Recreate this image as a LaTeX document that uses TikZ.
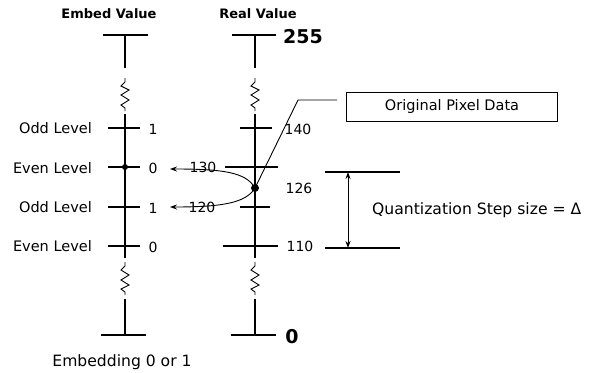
\documentclass[tikz,border=0pt]{standalone}
\usepackage{fontspec}
\setmainfont{DejaVu Sans}
\usetikzlibrary{arrows.meta}
\begin{document}
\begin{tikzpicture}[x=1pt,y=-1pt,
  axis/.style={line width=1.6pt},
  tick/.style={line width=1.4pt},
  lbl/.style={inner sep=0pt,font=\fontsize{14}{16}\selectfont},
  lvl/.style={inner sep=0pt,font=\fontsize{14.5}{16}\selectfont},
  wide/.style={inner sep=0pt,font=\fontsize{15.6}{18}\selectfont},
  ttl/.style={inner sep=0pt,font=\fontsize{13}{15}\selectfont\bfseries},
  big/.style={inner sep=0pt,font=\fontsize{19}{21}\selectfont\bfseries},
  zz/.style={line width=0.9pt},
  conn/.style={line width=0.9pt},
  tip/.style={Stealth[length=7pt,width=5pt]},
  arr/.style={conn,-{Stealth[length=7pt,width=5pt]}},
  dotstyle/.style={circle,fill=black,inner sep=0pt,minimum size=#1}
]
\useasboundingbox (0,0) rectangle (604,372);

% titles
\node[ttl] (tembed) at (109,14) {Embed Value};
\node[ttl] (treal) at (258,14) {Real Value};

% ---- left axis
\draw[axis] (103,35) -- (148,35);
\draw[axis] (125,35) -- (125,68);
\draw[zz] (125,78) -- (125,82) -- (121,86) -- (129,90) -- (121,95) -- (129,100) -- (121,105) -- (125,108) -- (125,111);
\draw[axis] (125,114) -- (125,258);
\draw[zz] (125,262) -- (125,266) -- (121,270) -- (129,275) -- (121,280) -- (129,285) -- (121,289) -- (125,292) -- (125,295);
\draw[axis] (125,299) -- (125,335);
\draw[axis] (101,335) -- (146,335);
\foreach \yy in {128,167,207,246} \draw[tick] (108,\yy) -- (140,\yy);
\node[dotstyle=6pt] (ldot) at (125,167) {};

% ---- right axis
\draw[axis] (232,35) -- (276,35);
\draw[axis] (255,35) -- (255,68);
\draw[zz] (255,78) -- (255,82) -- (251,86) -- (259,90) -- (251,95) -- (259,100) -- (251,105) -- (255,108) -- (255,111);
\draw[axis] (255,114) -- (255,258);
\draw[zz] (255,262) -- (255,266) -- (251,270) -- (259,275) -- (251,280) -- (259,285) -- (251,289) -- (255,292) -- (255,295);
\draw[axis] (255,299) -- (255,335);
\draw[axis] (231,335) -- (276,335);
\draw[tick] (240,128) -- (272,128);
\draw[tick] (225,167) -- (278,167);
\draw[tick] (240,207) -- (270,207);
\draw[tick] (223,246) -- (278,246);

% left labels
\node[lvl,anchor=east] (o1) at (92,128) {Odd Level};
\node[lvl,anchor=east] (e1) at (92,168) {Even Level};
\node[lvl,anchor=east] (o2) at (92,207) {Odd Level};
\node[lvl,anchor=east] (e2) at (92,246) {Even Level};
\node[lbl] (va) at (153,129) {1};
\node[lbl] (vb) at (153,168) {0};
\node[lbl] (vc) at (153,208) {1};
\node[lbl] (vd) at (153,247) {0};

% right labels
\node[big,anchor=west] (r255) at (283,37) {255};
\node[lbl] (r140) at (298,129) {140};
\node[lbl] (r130) at (203,167) {130};
\node[lbl] (r126) at (299,188) {126};
\node[lbl] (r120) at (202,207) {120};
\node[lbl] (r110) at (300,246) {110};
\node[big] (r0) at (292,337) {0};

\node[wide] (emb) at (122,362) {Embedding 0 or 1};

% original pixel data
\node[dotstyle=8pt] (pdot) at (255,188) {};
\node[draw,line width=0.9pt,minimum width=211pt,minimum height=29pt,inner sep=0pt,
      font=\fontsize{14.5}{16}\selectfont] (box) at (452,106.5) {Original Pixel Data};
\coordinate (lead) at (298,100);
\draw[conn] (pdot.center) -- (lead) -- ([xshift=-9pt]box.west |- lead);

% arrows to embed values
\coordinate (t0) at (170,169);
\coordinate (t1) at (170,207);
\draw[arr] (pdot.center) .. controls (246,172) and (222,169) .. (t0);
\draw[arr] (pdot.center) .. controls (246,203) and (222,207) .. (t1);

% quantization step
\coordinate (qa) at (325,172);
\coordinate (qb) at (325,248);
\draw[tick] (qa) -- (400,172);
\draw[tick] (qb) -- (400,248);
\coordinate (qat) at (348,172);
\coordinate (qbt) at (348,248);
\draw[conn,{Stealth[length=7pt,width=5pt]}-{Stealth[length=7pt,width=5pt]}] (qat) -- (qbt);
\node[wide,anchor=west] (qtxt) at (372,210) {Quantization Step size = Δ};
\end{tikzpicture}
\end{document}
